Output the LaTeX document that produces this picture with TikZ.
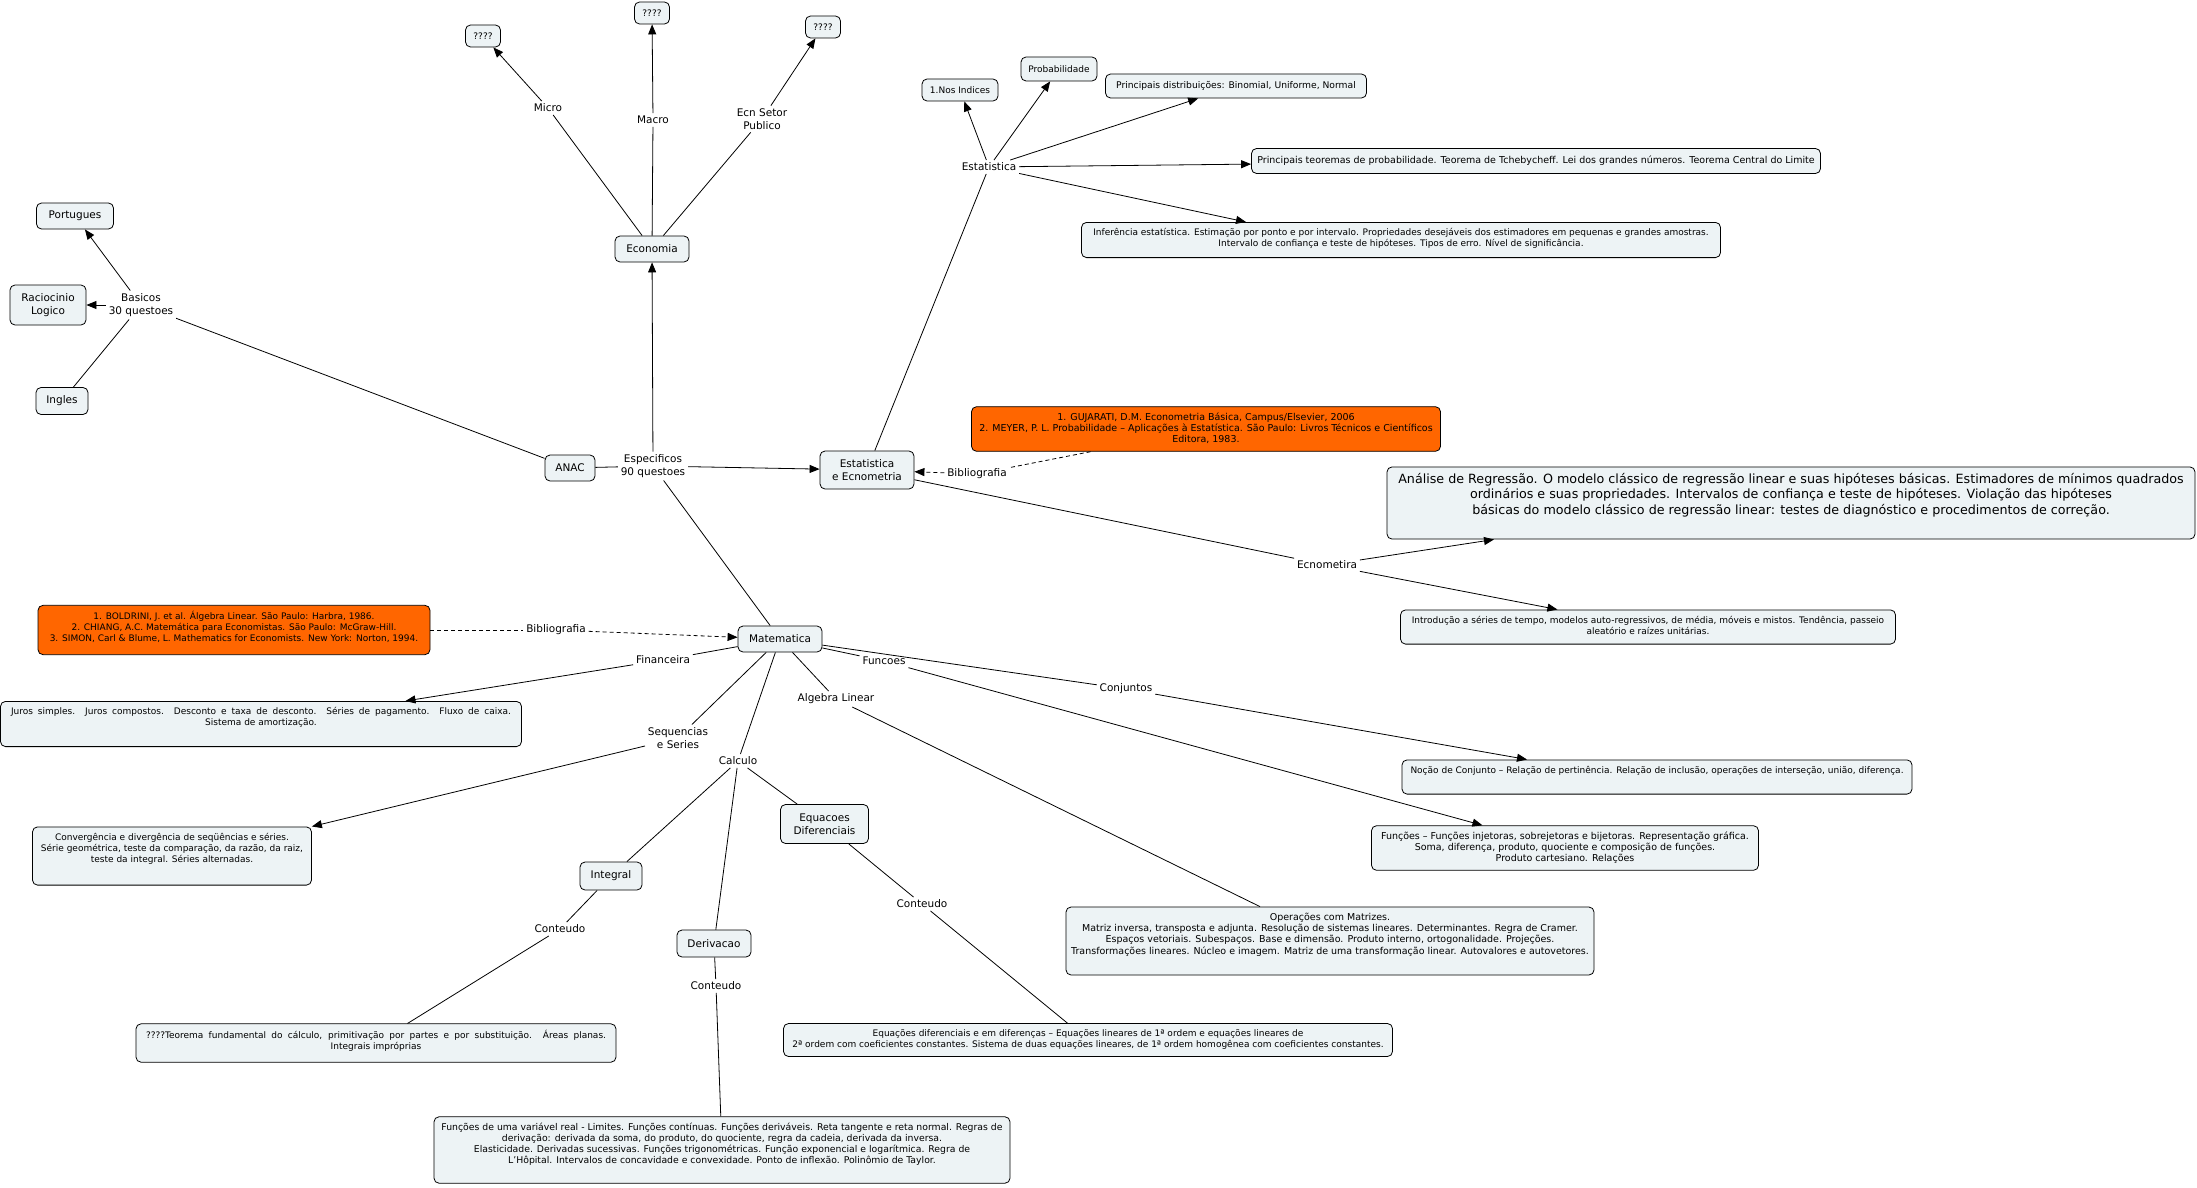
\documentclass[tikz,border=0pt]{standalone}
\usepackage{fontspec}
\setmainfont{DejaVu Sans}
\usetikzlibrary{arrows.meta}
\definecolor{boxfill}{HTML}{EDF3F5}
\definecolor{biborange}{HTML}{FF6600}

\tikzset{
  concept/.style={draw, rounded corners=5pt, fill=boxfill, align=center, inner sep=3pt,
    font=\fontsize{10.5}{13}\selectfont},
  smallconcept/.style={concept, font=\fontsize{9}{11}\selectfont},
  topic/.style={concept, inner xsep=5pt, inner ysep=6pt, font=\fontsize{9}{11}\selectfont},
  biblio/.style={topic, fill=biborange},
  linkword/.style={align=center, inner sep=2.5pt, font=\fontsize{10.5}{13}\selectfont},
  bibline/.style={dash pattern=on 4pt off 3pt}
}

\begin{document}
\begin{tikzpicture}[x=1pt, y=-1pt, line width=0.8pt,
  >={Triangle[length=10pt,width=8pt]}]
\useasboundingbox (0,0) rectangle (2197,1188);

% concepts
\node[concept, minimum width=50, minimum height=26] (anac) at (570,468) {ANAC};
\node[concept, minimum width=74, minimum height=26] (econ) at (652,249) {Economia};
\node[smallconcept, minimum width=35, minimum height=22] (q1) at (483,36) {????};
\node[smallconcept, minimum width=35, minimum height=22] (q2) at (652,13) {????};
\node[smallconcept, minimum width=35, minimum height=22] (q3) at (823,27) {????};
\node[concept, minimum width=77, minimum height=26] (port) at (75,216) {Portugues};
\node[concept, minimum width=76, minimum height=40] (racio) at (48,305) {Raciocinio\\Logico};
\node[concept, minimum width=52, minimum height=27] (ingl) at (62,401) {Ingles};
\node[concept, minimum width=94, minimum height=38] (esteco) at (867,470) {Estatistica\\e Ecnometria};
\node[smallconcept, minimum width=76, minimum height=22] (indices) at (960,90) {1.Nos Indices};
\node[smallconcept, minimum width=76, minimum height=24] (prob) at (1059,69) {Probabilidade};
\node[concept, minimum width=84, minimum height=26] (mat) at (780,639) {Matematica};
\node[concept, minimum width=88, minimum height=39] (eqdif) at (824.5,824) {Equacoes\\Diferenciais};
\node[concept, minimum width=62, minimum height=28] (integ) at (611,876) {Integral};
\node[concept, minimum width=74, minimum height=27] (deriv) at (714,943.5) {Derivacao};

% contents
\node[topic, minimum width=261, minimum height=24, font=\fontsize{9.2}{11}\selectfont] (distr) at (1236,86)
  {Principais distribuições:  Binomial,  Uniforme,  Normal};
\node[topic, minimum width=569, minimum height=25, font=\fontsize{9.5}{11}\selectfont] (teor) at (1536,161)
  {Principais  teoremas  de  probabilidade.  Teorema  de Tchebycheff.  Lei dos grandes números. Teorema Central do  Limite};
\node[topic, minimum width=639, text depth=5] (infer) at (1401,240)
  {Inferência estatística. Estimação por ponto e por  intervalo. Propriedades desejáveis dos estimadores em pequenas e grandes amostras.\\
   Intervalo de confiança e teste de hipóteses. Tipos de erro. Nível de significância.};
\node[biblio, minimum width=469, text depth=3, font=\fontsize{9.5}{11}\selectfont] (bibest) at (1206,429)
  {1. GUJARATI, D.M. Econometria Básica, Campus/Elsevier, 2006\\
   2. MEYER, P.  L. Probabilidade  – Aplicações  à Estatística. São Paulo:  Livros Técnicos  e Científicos\\
   Editora, 1983.};
\node[topic, minimum width=808, text depth=19, font=\fontsize{12.7}{15.5}\selectfont] (regr) at (1791,503)
  {Análise de Regressão. O modelo  clássico  de  regressão  linear  e  suas  hipóteses  básicas.  Estimadores  de  mínimos  quadrados\\
   ordinários  e  suas  propriedades.  Intervalos  de  confiança  e  teste  de  hipóteses.  Violação  das  hipóteses\\
   básicas do modelo clássico de  regressão  linear:  testes de diagnóstico e procedimentos de correção.};
\node[topic, minimum width=495, text depth=4] (tempo) at (1648,627)
  {Introdução a séries de tempo, modelos auto-regressivos, de média, móveis e mistos. Tendência, passeio\\
   aleatório e raízes unitárias.};
\node[biblio, minimum width=392, text depth=7] (bibmat) at (234,630)
  {1. BOLDRINI, J. et al. Álgebra Linear. São Paulo: Harbra, 1986.\\
   2. CHIANG, A.C. Matemática para Economistas. São Paulo: McGraw-Hill.\\
   3. SIMON, Carl \& Blume, L. Mathematics for Economists. New York: Norton, 1994.};
\node[topic, minimum width=521, text depth=15] (juros) at (261,724)
  {\makebox[500pt][s]{Juros simples. Juros compostos. Desconto e taxa de desconto. Séries de pagamento. Fluxo de caixa.}\\
   Sistema  de  amortização.};
\node[topic, minimum width=510, text depth=15] (conj) at (1657,777)
  {Noção de Conjunto – Relação de pertinência. Relação de inclusão, operações de interseção, união, diferença.};
\node[topic, minimum width=387, text depth=3, font=\fontsize{9.5}{11}\selectfont] (func) at (1565,848)
  {Funções – Funções injetoras,  sobrejetoras  e  bijetoras.  Representação  gráfica.\\
   Soma,  diferença,  produto,  quociente  e composição  de  funções.\\
   Produto cartesiano. Relações};
\node[topic, minimum width=279, text depth=17] (conv) at (172,856)
  {Convergência e divergência de seqüências e séries.\\
   Série geométrica, teste da comparação, da razão, da raiz,\\
   teste da  integral. Séries alternadas.};
\node[topic, minimum width=528, text depth=15, font=\fontsize{9.5}{11.2}\selectfont] (matriz) at (1330,941)
  {Operações  com  Matrizes.\\
   Matriz  inversa,  transposta  e adjunta.  Resolução  de  sistemas  lineares.  Determinantes.  Regra  de  Cramer.\\
   Espaços  vetoriais.  Subespaços.  Base  e  dimensão.  Produto  interno,  ortogonalidade.  Projeções.\\
   Transformações  lineares.  Núcleo e  imagem.  Matriz de uma  transformação  linear.  Autovalores e autovetores.};
\node[topic, minimum width=480, text depth=7] (tfc) at (376,1043)
  {\makebox[460pt][s]{????Teorema fundamental do cálculo, primitivação por partes e por substituição. Áreas planas.}\\
   Integrais impróprias};
\node[topic, minimum width=609, text depth=3] (edo) at (1088,1040)
  {Equações diferenciais e em diferenças – Equações  lineares de 1ª ordem e equações  lineares de\\
   2ª ordem com coeficientes constantes. Sistema de duas equações lineares, de 1ª ordem homogênea com coeficientes constantes.};
\node[topic, minimum width=576, text depth=14, font=\fontsize{9.3}{11}\selectfont] (limites) at (722,1150)
  {Funções de uma variável  real  - Limites. Funções contínuas. Funções deriváveis. Reta  tangente e  reta normal. Regras de\\
   derivação:  derivada  da  soma,  do  produto,  do  quociente,  regra  da  cadeia,  derivada  da  inversa.\\
   Elasticidade. Derivadas sucessivas. Funções trigonométricas. Função exponencial e logarítmica. Regra de\\
   L’Hôpital. Intervalos de concavidade e convexidade. Ponto de inflexão. Polinômio de Taylor.};

% linking words
\node[linkword] (lbasic) at (141,305) {Basicos\\30 questoes};
\node[linkword] (lspec) at (653,466) {Especificos\\90 questoes};
\node[linkword] (lmicro) at (548,108) {Micro};
\node[linkword] (lmacro) at (653,120) {Macro};
\node[linkword] (lsetor) at (762,119) {Ecn Setor\\Publico};
\node[linkword] (lestat) at (989,167) {Estatistica};
\node[linkword] (lbibest) at (977,474) {Bibliografia};
\node[linkword] (lecon) at (1327,565) {Ecnometira};
\node[linkword] (lbibmat) at (556,630) {Bibliografia};
\node[linkword] (lfin) at (663,660) {Financeira};
\node[linkword] (lfunc) at (884,661) {Funcoes};
\node[linkword] (lconj) at (1126,689) {Conjuntos};
\node[linkword] (lalg) at (836,699) {Algebra Linear};
\node[linkword] (lseq) at (678,738) {Sequencias\\e Series};
\node[linkword] (lcalc) at (738,761) {Calculo};
\node[linkword] (lcont1) at (560,929) {Conteudo};
\node[linkword] (lcont2) at (716,986) {Conteudo};
\node[linkword] (lcont3) at (922,904) {Conteudo};

% basicos
\draw (anac) -- (lbasic);
\draw[->] (lbasic) -- (port);
\draw[->] (lbasic) -- (racio);
\draw (lbasic) -- (ingl);

% especificos
\draw (anac) -- (lspec);
\draw[->] (lspec) -- (econ);
\draw[->] (lspec) -- (esteco);
\draw (lspec) -- (mat);

% economia
\draw (econ) -- (lmicro);
\draw[->] (lmicro) -- (q1);
\draw (econ) -- (lmacro);
\draw[->] (lmacro) -- (q2);
\draw (econ) -- (lsetor);
\draw[->] (lsetor) -- (q3);

% estatistica e econometria
\draw (esteco) -- (lestat);
\draw[->] (lestat) -- (indices);
\draw[->] (lestat) -- (prob);
\draw[->] (lestat) -- (distr);
\draw[->] (lestat) -- (teor);
\draw[->] (lestat) -- ([xshift=-155pt]infer.north);
\draw[bibline] (bibest) -- (lbibest);
\draw[bibline, ->] (lbibest) -- (esteco);
\draw (esteco) -- (lecon);
\draw[->] (lecon) -- ([xshift=-297pt]regr.south);
\draw[->] (lecon) -- (tempo);

% matematica
\draw[bibline] (bibmat) -- (lbibmat);
\draw[bibline, ->] (lbibmat) -- (mat);
\draw (mat) -- (lfin);
\draw[->] (lfin) -- (juros);
\draw (mat) -- (lfunc);
\draw[->] (lfunc) -- (func);
\draw (mat) -- (lconj);
\draw[->] (lconj) -- ([xshift=-130pt]conj.north);
\draw (mat) -- (lalg);
\draw (lalg) -- (matriz);
\draw (mat) -- (lseq);
\draw[->] (lseq) -- (conv.north east);
\draw (mat) -- (lcalc);
\draw (lcalc) -- (integ);
\draw (lcalc) -- (deriv);
\draw (lcalc) -- (eqdif);
\draw (integ) -- (lcont1);
\draw (lcont1) -- (tfc);
\draw (deriv) -- (lcont2);
\draw (lcont2) -- (limites);
\draw (eqdif) -- (lcont3);
\draw (lcont3) -- (edo);
\end{tikzpicture}
\end{document}
